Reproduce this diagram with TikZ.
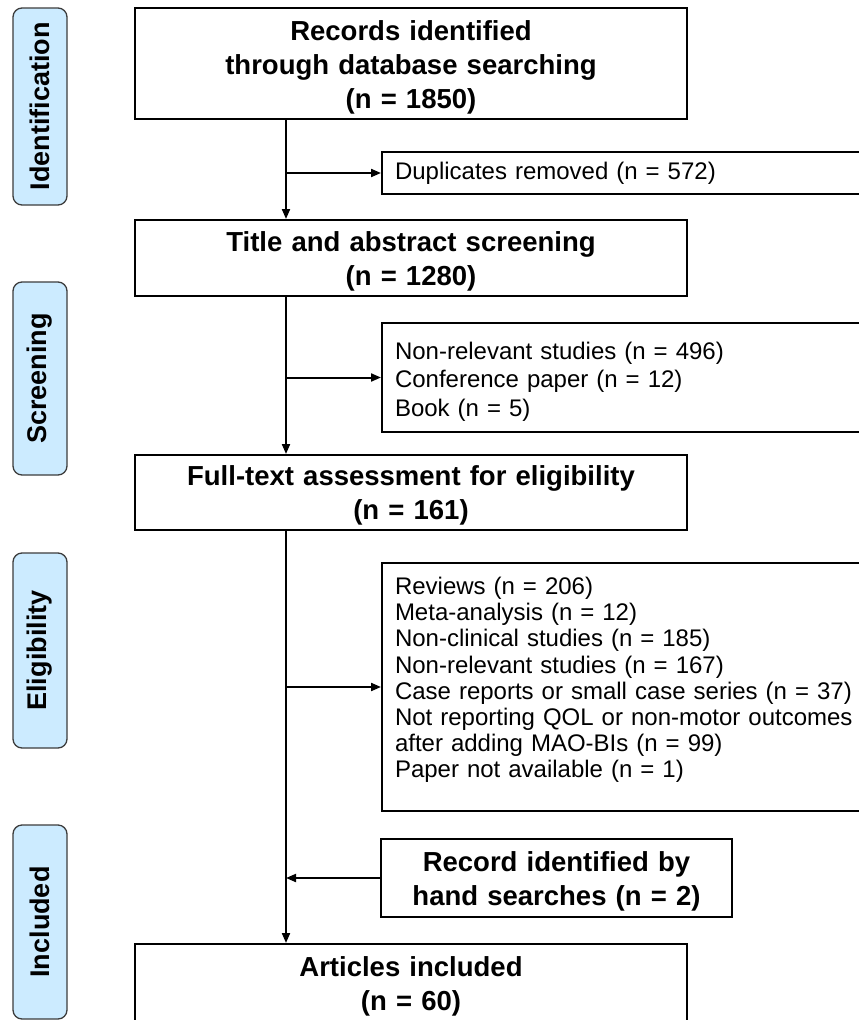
\documentclass[tikz,border=0pt]{standalone}
\usepackage{fontspec}
\setmainfont{Liberation Sans}
\usetikzlibrary{arrows.meta}
\definecolor{sidefill}{RGB}{204,235,255}
\definecolor{sidedraw}{RGB}{60,60,60}
\newcommand{\padend}[1]{\par\vspace{#1}\hrule height 0pt width 0pt}
\tikzset{
  mainbox/.style={draw=black, line width=2pt, text width=552pt, inner sep=0pt, align=center,
    font=\fontsize{27.5}{34}\selectfont\bfseries},
  exbox/.style={draw=black, line width=2pt, anchor=west, inner xsep=13pt, inner ysep=0pt,
    text width=464pt, align=left, font=\fontsize{24}{26.2}\selectfont},
  sidebox/.style={draw=sidedraw, fill=sidefill, line width=1.3pt, rounded corners=9pt, rotate=90,
    minimum height=54pt, inner sep=0pt, font=\fontsize{27}{32}\selectfont\bfseries},
  arr/.style={line width=2pt, -{Triangle[length=10pt,width=8pt]}}
}
\begin{document}
\begin{tikzpicture}[x=1pt,y=-1pt]
\clip (0,0) rectangle (859,1020);
\useasboundingbox (0,0) rectangle (859,1020);
% side labels
\node[sidebox, minimum width=197pt] (sid) at (40,106.5) {Identification};
\node[sidebox, minimum width=193pt] (sscr) at (40,378.5) {Screening};
\node[sidebox, minimum width=195pt] (selig) at (40,650.5) {Eligibility};
\node[sidebox, minimum width=194pt] (sinc) at (40,922) {Included};
% main boxes
\node[mainbox, minimum height=111pt] (rec) at (411,63.5) {Records identified\\through database searching\\(n = 1850)\padend{-7pt}};
\node[mainbox, minimum height=76pt] (tas) at (411,258) {Title and abstract screening\\(n = 1280)\padend{-6pt}};
\node[mainbox, minimum height=75pt] (fta) at (411,492.5) {Full-text assessment for eligibility\\(n = 161)\padend{-5pt}};
\node[mainbox, minimum height=84pt] (art) at (411,986) {Articles included\\(n = 60)};
% exclusion boxes
\node[exbox, minimum height=42pt] (dup) at (381,173) {Duplicates removed (n = 572)};
\node[exbox, minimum height=109pt, font=\fontsize{24}{28.5}\selectfont] (scrx) at (381,377.5) {Non-relevant studies (n = 496)\\Conference paper (n = 12)\\Book (n = 5)\padend{-8pt}};
\node[exbox, minimum height=248pt] (eligx) at (381,687) {Reviews (n = 206)\\Meta-analysis (n = 12)\\Non-clinical studies (n = 185)\\Non-relevant studies (n = 167)\\Case reports or small case series (n = 37)\\Not reporting QOL or non-motor outcomes\\after adding MAO-BIs (n = 99)\\Paper not available (n = 1)\padend{14pt}};
\node[mainbox, text width=351pt, minimum height=78pt] (hand) at (556.5,878) {Record identified by\\hand searches (n = 2)\padend{-6pt}};
% connectors
\coordinate (mx) at (286,0);
\draw[arr] (rec.south -| mx) -- (tas.north -| mx);
\draw[arr] (dup.west -| mx) -- (dup.west);
\draw[arr] (tas.south -| mx) -- (fta.north -| mx);
\draw[arr] (scrx.west -| mx) -- (scrx.west);
\draw[arr] (fta.south -| mx) -- (art.north -| mx);
\draw[arr] (eligx.west -| mx) -- (eligx.west);
\draw[arr] (hand.west) -- (hand.west -| mx);
\end{tikzpicture}
\end{document}
